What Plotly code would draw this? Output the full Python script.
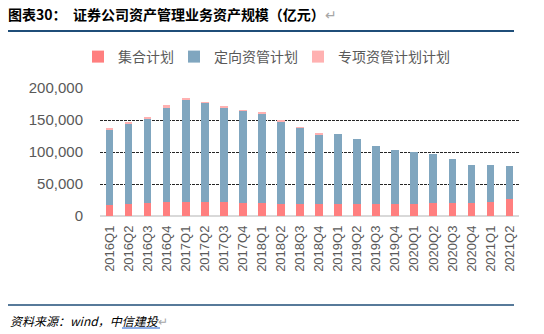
import plotly.graph_objects as go

quarters = ["2016Q1", "2016Q2", "2016Q3", "2016Q4",
            "2017Q1", "2017Q2", "2017Q3", "2017Q4",
            "2018Q1", "2018Q2", "2018Q3", "2018Q4",
            "2019Q1", "2019Q2", "2019Q3", "2019Q4",
            "2020Q1", "2020Q2", "2020Q3", "2020Q4",
            "2021Q1", "2021Q2"]

jihe = [17200, 18750, 20800, 21900, 21900, 21900, 21900, 20800,
        20800, 18750, 18750, 18750, 18750, 18750, 18750, 18750,
        18750, 20800, 20800, 20800, 21900, 27000]

dingxiang = [117200, 126550, 130760, 147400, 160900, 154700, 147400, 143300,
             140100, 129650, 118750, 109350, 109300, 101550, 90650, 84350,
             81250, 76100, 68260, 58900, 57800, 51100]

zhuanxiang = [1560, 2100, 3600, 4600, 2100, 1500, 1500, 1500,
              1600, 1600, 1560, 1600, 0, 0, 0, 0,
              0, 0, 0, 0, 0, 0]

y_ticks = [0, 50000, 100000, 150000, 200000]
y_tick_text = ["0", "50,000", "100,000", "150,000", "200,000"]

series_names = ["集合计划", "定向资管计划", "专项资管计划计划"]
colors = ["#FF7F7F", "#80A6BF", "#FFB1B1"]

W, H = 544, 334
L, R, T, B = 100, 25, 88, 118
pw = W - L - R
ph = H - T - B


def px(x):
    return (x - L) / pw


def py(y):
    return (H - B - y) / ph


legend_ids = ["legend", "legend2", "legend3"]
legend_x_px = [78, 174, 298]

fig = go.Figure()
for name, vals, c, lg in zip(series_names, [jihe, dingxiang, zhuanxiang], colors, legend_ids):
    fig.add_trace(go.Bar(x=quarters, y=vals, name=name, marker_color=c,
                         marker_line_width=0, legend=lg))

legend_common = dict(orientation="h", xanchor="left", y=py(57), yanchor="middle",
                     font=dict(size=14, color="#595959", family="Noto Sans CJK SC"),
                     itemwidth=30, bgcolor="rgba(0,0,0,0)")

fig.update_layout(
    width=W, height=H,
    margin=dict(l=L, r=R, t=T, b=B, pad=0),
    barmode="stack",
    bargap=0.6,
    plot_bgcolor="white",
    paper_bgcolor="white",
    font=dict(family="Liberation Sans, Arial, Noto Sans CJK SC", color="#595959"),
    showlegend=True,
    legend=dict(x=px(legend_x_px[0]), **legend_common),
    legend2=dict(x=px(legend_x_px[1]), **legend_common),
    legend3=dict(x=px(legend_x_px[2]), **legend_common),
    title=dict(text="图表30：  证券公司资产管理业务资产规模（亿元）<span style='color:#A6A6A6;font-weight:normal'>↵</span>",
               xref="container", yref="container", x=8 / W, xanchor="left",
               y=1 - 15 / H, yanchor="middle",
               font=dict(size=14, color="#000000", family="Noto Sans CJK SC", weight="bold")),
)

fig.update_xaxes(type="category", tickangle=-90, showgrid=False,
                 showline=False, ticks="", tickfont=dict(size=13, color="#595959"),
                 ticklabelstandoff=6)
fig.update_yaxes(range=[0, 200000], tickvals=y_ticks, ticktext=y_tick_text,
                 showgrid=True, gridcolor="#262626", gridwidth=1, griddash="3px,1px",
                 zeroline=True, zerolinecolor="#D9D9D9", zerolinewidth=1.5,
                 ticks="", tickfont=dict(size=15, color="#595959"),
                 ticklabelstandoff=16, showline=False)

line_color = "#1F4E79"
fig.add_shape(type="line", xref="paper", yref="paper", x0=px(8), x1=px(514),
              y0=py(31), y1=py(31), line=dict(color=line_color, width=2))
fig.add_shape(type="line", xref="paper", yref="paper", x0=px(8), x1=px(514),
              y0=py(305), y1=py(305), line=dict(color=line_color, width=1.5))
# underline under 信建投
fig.add_shape(type="line", xref="paper", yref="paper", x0=px(122), x1=px(160),
              y0=py(328), y1=py(328), line=dict(color="#1F5FD0", width=1))

fig.add_annotation(text="<i>资料来源：wind，中信建投</i><span style='color:#A6A6A6'>↵</span>",
                   xref="paper", yref="paper", x=px(8), y=py(320),
                   xanchor="left", yanchor="middle", showarrow=False,
                   font=dict(size=12, color="#000000", family="Noto Sans CJK SC"))

fig.write_html("out.html")
